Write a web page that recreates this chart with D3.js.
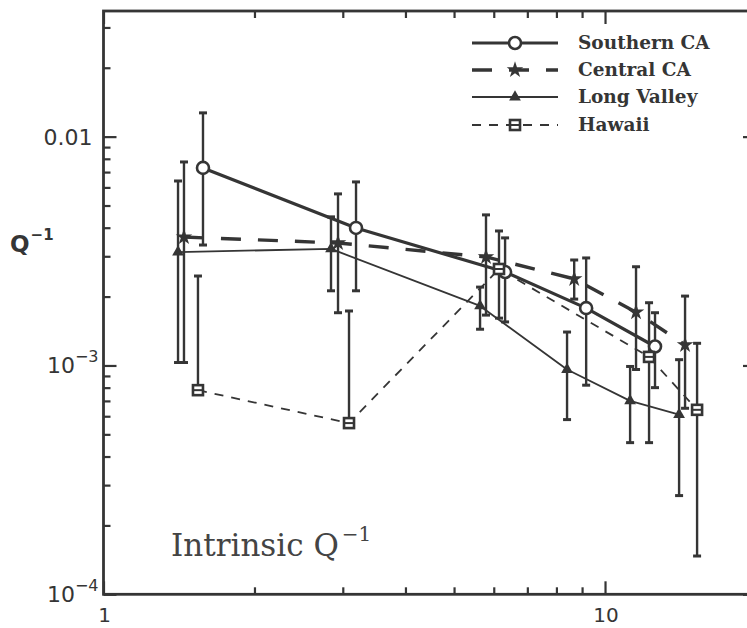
<!DOCTYPE html>
<html>
<head>
<meta charset="utf-8">
<script src="https://cdn.jsdelivr.net/npm/d3@7"></script>
<style>
  body { margin: 0; background: #fff; }
  svg { display: block; }
</style>
</head>
<body>
<svg id="chart" width="747" height="628"></svg>
<script>
// Intrinsic Q^-1 versus frequency (Hz) for four regions, with error bars
const regionNames = ["Southern CA", "Central CA", "Long Valley", "Hawaii"];

const southernFreq = [1.579, 3.188, 6.32, 9.17, 12.58];
const southernQ    = [0.00730, 0.00399, 0.00256, 0.00178, 0.00121];
const southernHi   = [0.0127, 0.00634, 0.00361, 0.00295, 0.00170];
const southernLo   = [0.00336, 0.00212, 0.00155, 0.00082, 0.00080];

const centralFreq = [1.447, 2.935, 5.79, 8.68, 11.53, 14.44];
const centralQ    = [0.00364, 0.00343, 0.00298, 0.00239, 0.00171, 0.00123];
const centralHi   = [0.00775, 0.00562, 0.00455, 0.00289, 0.00270, 0.00201];
const centralLo   = [0.00103, 0.00170, 0.00166, 0.00195, 0.00096, 0.00065];

const longValleyFreq = [1.408, 2.842, 5.634, 8.40, 11.22, 14.05];
const longValleyQ    = [0.00313, 0.00323, 0.00182, 0.00096, 0.00070, 0.00061];
const longValleyHi   = [0.00640, 0.00446, 0.00220, 0.00140, 0.00099, 0.00106];
const longValleyLo   = [0.00103, 0.00212, 0.00144, 0.00058, 0.00046, 0.00027];

const hawaiiFreq = [1.543, 3.087, 6.146, 12.24, 15.26];
const hawaiiQ    = [0.00078, 0.00056, 0.00264, 0.00109, 0.00064];
const hawaiiHi   = [0.00246, 0.00173, 0.00387, 0.00188, 0.00125];
const hawaiiLo   = [null, null, 0.00161, 0.00046, 0.000147];

const xMajorTicks = [1, 10];
const xMinorTicks = [2, 3, 4, 5, 6, 7, 8, 9, 20];
const yMajorTicks = [1e-4, 1e-3, 1e-2];
const yMinorTicks = [2e-4, 3e-4, 4e-4, 5e-4, 6e-4, 7e-4, 8e-4, 9e-4,
                     2e-3, 3e-3, 4e-3, 5e-3, 6e-3, 7e-3, 8e-3, 9e-3, 2e-2, 3e-2];
const yTickLabels = [
  { value: 1e-2, base: "0.01", exp: null },
  { value: 1e-3, base: "10", exp: "\u22123" },
  { value: 1e-4, base: "10", exp: "\u22124" }
];
const xTickLabels = [{ value: 1, text: "1" }, { value: 10, text: "10" }];

const ink = "#353535";
const svg = d3.select("#chart");

const x = d3.scaleLog().domain([1, 20]).range([103.5, 756]);
const y = d3.scaleLog().domain([1e-4, 0.0354]).range([594.3, 11]);
const [x0, x1] = x.range();
const [y0, y1] = y.range();

const series = [
  { name: regionNames[0], f: southernFreq, q: southernQ, hi: southernHi, lo: southernLo,
    width: 3.2, dash: null, marker: "circle" },
  { name: regionNames[1], f: centralFreq, q: centralQ, hi: centralHi, lo: centralLo,
    width: 3.4, dash: "20,17", marker: "star" },
  { name: regionNames[2], f: longValleyFreq, q: longValleyQ, hi: longValleyHi, lo: longValleyLo,
    width: 1.8, dash: null, marker: "triangle" },
  { name: regionNames[3], f: hawaiiFreq, q: hawaiiQ, hi: hawaiiHi, lo: hawaiiLo,
    width: 1.8, dash: "9,8", marker: "square" }
];

// ---- axes: ticks point inward on all four sides ----
function styleAxis(g) {
  g.select(".domain").remove();
  g.selectAll(".tick line").attr("stroke", ink).attr("stroke-width", 2.2);
}
const noLabel = () => "";
svg.append("g").attr("transform", `translate(0,${y0})`)
  .call(d3.axisBottom(x).tickValues(xMajorTicks).tickSize(-13).tickFormat(noLabel)).call(styleAxis);
svg.append("g").attr("transform", `translate(0,${y0})`)
  .call(d3.axisBottom(x).tickValues(xMinorTicks).tickSize(-7).tickFormat(noLabel)).call(styleAxis);
svg.append("g").attr("transform", `translate(0,${y1})`)
  .call(d3.axisTop(x).tickValues(xMajorTicks).tickSize(-13).tickFormat(noLabel)).call(styleAxis);
svg.append("g").attr("transform", `translate(0,${y1})`)
  .call(d3.axisTop(x).tickValues(xMinorTicks).tickSize(-7).tickFormat(noLabel)).call(styleAxis);
svg.append("g").attr("transform", `translate(${x0},0)`)
  .call(d3.axisLeft(y).tickValues(yMajorTicks).tickSize(-13).tickFormat(noLabel)).call(styleAxis);
svg.append("g").attr("transform", `translate(${x0},0)`)
  .call(d3.axisLeft(y).tickValues(yMinorTicks).tickSize(-7).tickFormat(noLabel)).call(styleAxis);
svg.append("g").attr("transform", `translate(${x1},0)`)
  .call(d3.axisRight(y).tickValues(yMajorTicks).tickSize(-13).tickFormat(noLabel)).call(styleAxis);
svg.append("g").attr("transform", `translate(${x1},0)`)
  .call(d3.axisRight(y).tickValues(yMinorTicks).tickSize(-7).tickFormat(noLabel)).call(styleAxis);

// frame
svg.append("rect")
  .attr("x", x0).attr("y", y1).attr("width", x1 - x0).attr("height", y0 - y1)
  .attr("fill", "none").attr("stroke", ink).attr("stroke-width", 2.8);

// tick labels
const tickFont = "'DejaVu Sans', sans-serif";
yTickLabels.forEach(t => {
  const txt = svg.append("text")
    .attr("x", t.exp ? x0 - 5 : x0 - 11).attr("y", y(t.value) + 8)
    .attr("text-anchor", "end").attr("fill", ink)
    .attr("font-family", tickFont).attr("font-size", 22);
  txt.append("tspan").text(t.base);
  if (t.exp) {
    txt.append("tspan").attr("font-size", 16).attr("dy", -11).text(t.exp);
  }
});
xTickLabels.forEach(t => {
  svg.append("text")
    .attr("x", x(t.value) + 1).attr("y", 622)
    .attr("text-anchor", "middle").attr("fill", ink)
    .attr("font-family", tickFont).attr("font-size", 20)
    .text(t.text);
});

// y axis title Q^-1
const yTitle = svg.append("text")
  .attr("x", 10).attr("y", 252).attr("fill", ink)
  .attr("font-family", tickFont).attr("font-weight", "bold").attr("font-size", 23);
yTitle.append("tspan").text("Q");
yTitle.append("tspan").attr("font-size", 15).attr("dy", -12).attr("dx", 1).text("\u22121");

// ---- marks ----
const plot = svg.append("g");
const line = d3.line().x(d => x(d[0])).y(d => y(d[1]));

series.forEach(s => {
  plot.append("path")
    .datum(s.f.map((f, i) => [f, s.q[i]]))
    .attr("d", line)
    .attr("fill", "none").attr("stroke", ink)
    .attr("stroke-width", s.width)
    .attr("stroke-dasharray", s.dash)
    .attr("stroke-linejoin", "round");
});

const capHalf = 4;
series.forEach(s => {
  s.f.forEach((f, i) => {
    const cx = x(f);
    const top = y(s.hi[i]);
    const bot = s.lo[i] == null ? y(s.q[i]) : y(s.lo[i]);
    plot.append("line")
      .attr("x1", cx).attr("x2", cx).attr("y1", top).attr("y2", bot)
      .attr("stroke", ink).attr("stroke-width", 2.4);
    plot.append("line")
      .attr("x1", cx - capHalf).attr("x2", cx + capHalf).attr("y1", top).attr("y2", top)
      .attr("stroke", ink).attr("stroke-width", 3);
    if (s.lo[i] != null) {
      plot.append("line")
        .attr("x1", cx - capHalf).attr("x2", cx + capHalf).attr("y1", bot).attr("y2", bot)
        .attr("stroke", ink).attr("stroke-width", 3);
    }
  });
});

function drawMarker(g, type, cx, cy) {
  if (type === "circle") {
    g.append("circle").attr("cx", cx).attr("cy", cy).attr("r", 6)
      .attr("fill", "#fff").attr("stroke", ink).attr("stroke-width", 2.6);
  } else if (type === "star") {
    g.append("path").attr("d", d3.symbol(d3.symbolStar, 85)())
      .attr("transform", `translate(${cx},${cy})`).attr("fill", ink);
  } else if (type === "triangle") {
    g.append("path").attr("d", d3.symbol(d3.symbolTriangle, 60)())
      .attr("transform", `translate(${cx},${cy})`).attr("fill", ink);
  } else if (type === "square") {
    g.append("rect").attr("x", cx - 5).attr("y", cy - 5).attr("width", 10).attr("height", 10)
      .attr("fill", "#fff").attr("stroke", ink).attr("stroke-width", 2.6);
    g.append("line").attr("x1", cx - 5).attr("x2", cx + 5).attr("y1", cy).attr("y2", cy)
      .attr("stroke", ink).attr("stroke-width", 2);
  }
}

series.forEach(s => {
  s.f.forEach((f, i) => drawMarker(plot, s.marker, x(f), y(s.q[i])));
});

// ---- legend ----
const legend = svg.append("g");
const legendY = [43, 70, 97, 125];
series.forEach((s, i) => {
  const ly = legendY[i];
  legend.append("line")
    .attr("x1", 472).attr("x2", 558).attr("y1", ly).attr("y2", ly)
    .attr("stroke", ink).attr("stroke-width", s.width)
    .attr("stroke-dasharray", s.dash);
  drawMarker(legend, s.marker, 515, ly);
  legend.append("text")
    .attr("x", 578).attr("y", ly + 6).attr("fill", ink)
    .attr("font-family", "'DejaVu Serif', serif").attr("font-weight", "bold")
    .attr("font-size", 18.5)
    .text(s.name);
});

// ---- annotation ----
const note = svg.append("text")
  .attr("x", 171).attr("y", 556).attr("fill", "#444")
  .attr("font-family", "'DejaVu Serif', serif").attr("font-size", 31);
note.append("tspan").text("Intrinsic Q");
note.append("tspan").attr("font-size", 20).attr("dy", -15).attr("dx", 3).text("\u22121");
</script>
</body>
</html>
